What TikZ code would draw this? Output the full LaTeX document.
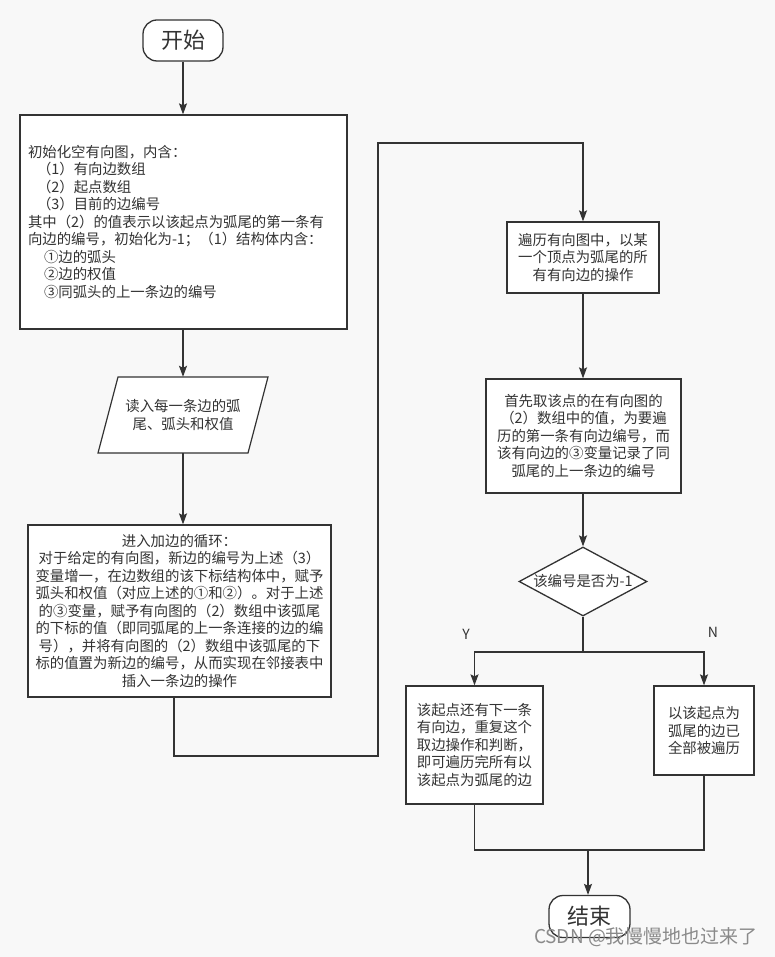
\documentclass[tikz,border=0pt]{standalone}
\usepackage{fontspec}
\setmainfont{Noto Sans CJK SC}
\usetikzlibrary{arrows.meta,shapes.geometric,calc}
\definecolor{ln}{HTML}{333333}
\definecolor{bg}{HTML}{F8F8F8}
\definecolor{tx}{HTML}{333333}
\definecolor{wmc}{HTML}{8A8A8A}
\begin{document}
\begin{tikzpicture}[x=1pt,y=-1pt,
  box/.style={draw=ln, fill=white, line width=1.3pt, text=tx, inner sep=0pt,
              font=\fontsize{14.4}{17.5}\selectfont, align=center},
  term/.style={box, rounded corners=14pt, font=\fontsize{22}{26}\selectfont},
  conn/.style={draw=ln, line width=1.2pt},
  arr/.style={conn, -{Stealth[length=11pt,width=8pt,inset=2pt]}},
  lbl/.style={text=tx, font=\fontsize{14}{16}\selectfont, inner sep=0pt}]
\fill[bg] (0,0) rectangle (775,957);
\useasboundingbox (0,0) rectangle (775,957);

% nodes
\node[term, minimum width=80pt, minimum height=41pt] (start) at (183,40.5) {开始};

\node[box, minimum width=327pt, minimum height=214pt, text width=311pt, align=left] (init) at (183.5,222) {%
初始化空有向图，内含：\\
\hspace*{9pt}（1）有向边数组\\
\hspace*{9pt}（2）起点数组\\
\hspace*{9pt}（3）目前的边编号\\
其中（2）的值表示以该起点为弧尾的第一条有\\
向边的编号，初始化为-1；（1）结构体内含：\\
\hspace*{16pt}①边的弧头\\
\hspace*{16pt}②边的权值\\
\hspace*{16pt}③同弧头的上一条边的编号};

\draw[conn, fill=white] (98,453) -- (118,377) -- (268,377) -- (248,453) -- cycle;
\node[text=tx, inner sep=0pt, align=center, font=\fontsize{14.4}{17.5}\selectfont,
      minimum width=170pt, minimum height=76pt] (read) at (183,415) {读入每一条边的弧\\尾、弧头和权值};

\node[box, minimum width=303pt, minimum height=172pt] (add) at (179.5,611) {%
进入加边的循环：\\
对于给定的有向图，新边的编号为上述（3）\\
变量增一，在边数组的该下标结构体中，赋予\\
弧头和权值（对应上述的①和②）。对于上述\\
的③变量，赋予有向图的（2）数组中该弧尾\\
的下标的值（即同弧尾的上一条连接的边的编\\
号），并将有向图的（2）数组中该弧尾的下\\
标的值置为新边的编号，从而实现在邻接表中\\
插入一条边的操作};

\node[box, minimum width=152pt, minimum height=71pt] (trav) at (583,257.5) {%
遍历有向图中，以某\\一个顶点为弧尾的所\\有有向边的操作};

\node[box, minimum width=195pt, minimum height=114pt] (first) at (583.5,436) {%
首先取该点的在有向图的\\（2）数组中的值，为要遍\\历的第一条有向边编号，而\\该有向边的③变量记录了同\\弧尾的上一条边的编号};

\node[box, diamond, minimum width=128pt, minimum height=69pt] (dia) at (583,581.5) {\makebox[0pt]{该编号是否为-1}};

\node[box, minimum width=137pt, minimum height=118pt] (yes) at (474.5,745) {%
该起点还有下一条\\有向边，重复这个\\取边操作和判断，\\即可遍历完所有以\\该起点为弧尾的边};

\node[box, minimum width=100pt, minimum height=89pt] (no) at (704,730.5) {%
以该起点为\\弧尾的边已\\全部被遍历};

\node[term, minimum width=81pt, minimum height=42pt] (end) at (589.5,916.5) {结束};

% connectors
\draw[arr] (start.south) -- (start.south |- init.north);
\draw[arr] (start.south |- init.south) -- (read.north);
\draw[arr] (read.south) -- (read.south |- add.north);

\coordinate (c1) at (174,756);
\coordinate (c2) at (378,756);
\coordinate (c3) at (378,143);
\draw[arr] (c1 |- add.south) -- (c1) -- (c2) -- (c3) -- (c3 -| trav.north) -- (trav.north);

\draw[arr] (trav.south) -- (trav.south |- first.north);
\draw[arr] (trav.south |- first.south) -- (dia.north);

\coordinate (j) at (583,652);
\coordinate (jy) at (474.5,652);
\coordinate (jn) at (704,652);
\draw[conn] (dia.south) -- (j);
\draw[arr] (j) -- (jy) -- (yes.north);
\draw[arr] (j) -- (jn) -- (no.north);

\coordinate (m) at (588,850);
\draw[conn] (yes.south) -- (yes.south |- m) -- (no.south |- m) -- (no.south);
\draw[arr] (m) -- (m |- end.north);

\node[lbl] (ylab) at (466,634) {Y};
\node[lbl] (nlab) at (713,632) {N};

\node[text=wmc, inner sep=0pt, font=\fontsize{19}{22}\selectfont] (wm) at (646,937) {CSDN @我慢慢地也过来了};
\end{tikzpicture}
\end{document}
